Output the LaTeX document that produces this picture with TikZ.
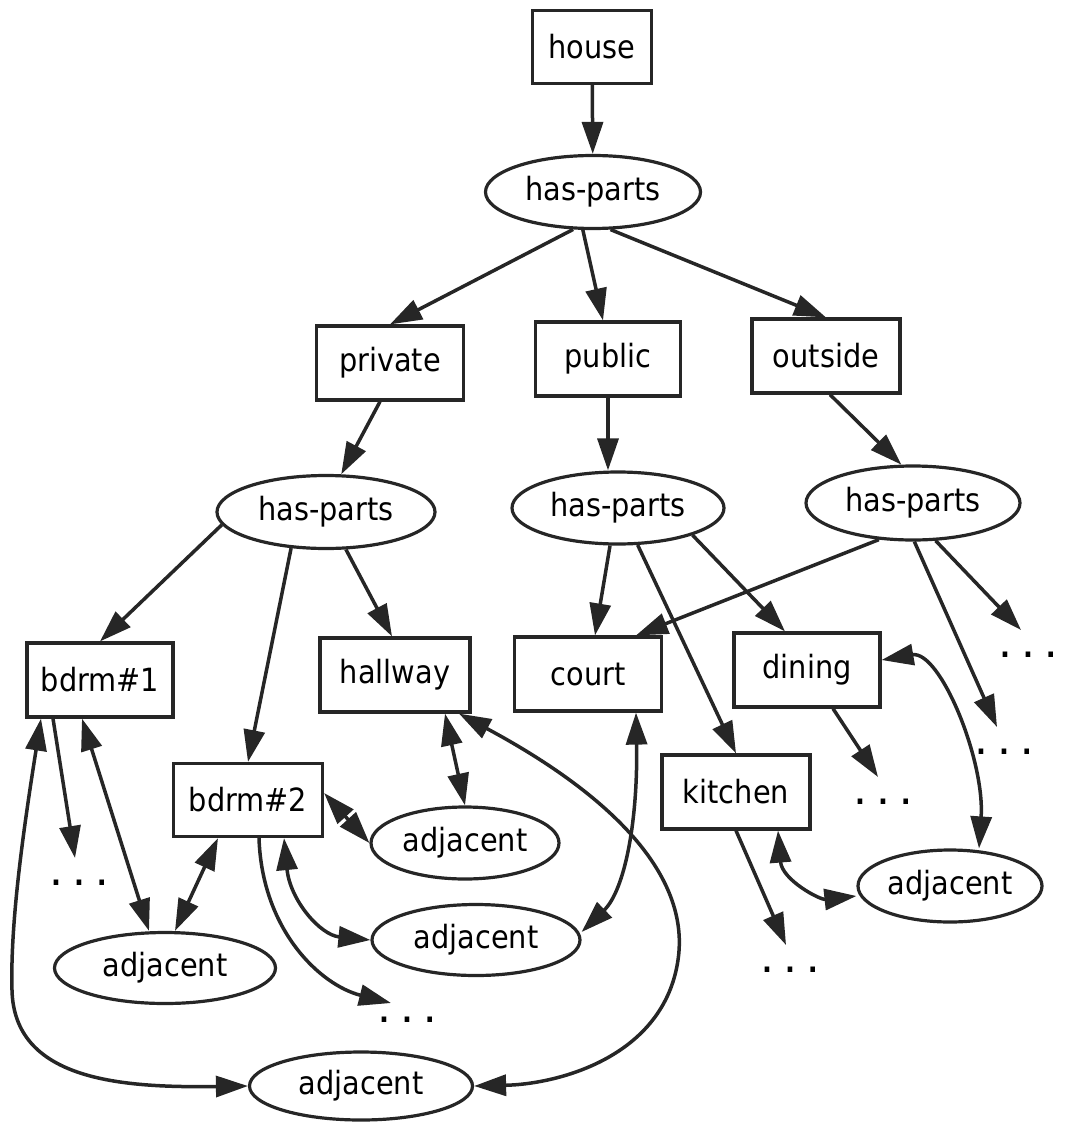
\documentclass[tikz,border=0pt]{standalone}
\usepackage{fontspec}
\setmainfont{DejaVu Sans}[FakeStretch=0.9]
\usetikzlibrary{shapes.geometric,arrows.meta}
\definecolor{ink}{HTML}{262626}
\begin{document}
\begin{tikzpicture}[x=1pt,y=-1pt,
  every node/.style={font=\fontsize{32}{36}\selectfont},
  box/.style={draw=ink, line width=3.2pt, minimum width=147pt, minimum height=74pt, inner sep=0pt},
  oval/.style={draw=ink, ellipse, line width=3.2pt, inner sep=0pt, minimum height=72pt},
  dots/.style={inner sep=0pt, text height=5pt, text depth=0pt, font=\fontsize{29}{34}\selectfont\bfseries},
  link/.style={draw=ink, line width=3.5pt, -{Triangle[length=32pt,width=21pt]}},
  mutual/.style={draw=ink, line width=3.5pt, {Triangle[length=32pt,width=21pt]}-{Triangle[length=32pt,width=21pt]}},
]
\useasboundingbox (0,0) rectangle (1067,1123);

% frames and relations
\node[box, minimum width=119pt, minimum height=73pt] (house) at (592,47) {house};
\node[oval, minimum width=215pt, minimum height=73pt] (hp0) at (593,192) {has-parts};
\node[box] (pri) at (390,363) {private};
\node[box, minimum width=145pt] (pub) at (608,359) {public};
\node[box, minimum width=148pt] (out) at (826,356) {outside};
\node[oval, minimum width=218pt, minimum height=73pt] (hp1) at (326,512) {has-parts};
\node[oval, minimum width=212pt] (hp2) at (618,508) {has-parts};
\node[oval, minimum width=214pt, minimum height=74pt] (hp3) at (913,503) {has-parts};
\node[box, minimum width=146pt] (bd1) at (100,680) {bdrm\#1};
\node[box, minimum width=150pt] (hall) at (395,675) {hallway};
\node[box] (court) at (588,674) {court};
\node[box, minimum width=146pt] (din) at (807,670) {dining};
\node[box, minimum width=148pt] (kit) at (736,792) {kitchen};
\node[box, minimum width=149pt, minimum height=73pt] (bd2) at (248,800) {bdrm\#2};
\node[oval, minimum width=188pt] (adjR1) at (465,843) {adjacent};
\node[oval, minimum width=208pt, minimum height=71pt] (adjM) at (476,940) {adjacent};
\node[oval, minimum width=221pt, minimum height=71pt] (adjL) at (165,968) {adjacent};
\node[oval, minimum width=223pt, minimum height=68pt] (adjB) at (361,1086) {adjacent};
\node[oval, minimum width=184pt] (adjRt) at (950,886) {adjacent};

% elided continuations
\node[dots] (dA) at (1028,655) {.\hspace{13pt}.\hspace{13pt}.};
\node[dots] (dB) at (1004,752) {.\hspace{13pt}.\hspace{13pt}.};
\node[dots] (dD) at (883,802) {.\hspace{13pt}.\hspace{13pt}.};
\node[dots] (dK) at (790,970) {.\hspace{13pt}.\hspace{13pt}.};
\node[dots] (dL) at (79,883) {.\hspace{13pt}.\hspace{13pt}.};
\node[dots] (dM) at (407,1020) {.\hspace{13pt}.\hspace{13pt}.};

% part-of links
\draw[link] (house) -- (hp0);
\draw[link] (hp0.242) -- (pri.north);
\draw[link] (hp0.255) -- ([xshift=-5pt]pub.north);
\draw[link] (hp0.295) -- (out.north);
\draw[link] ([xshift=-10pt]pri.south) -- (hp1.68);
\draw[link] (pub.south) -- (pub.south |- hp2.north);
\draw[link] ([xshift=4pt]out.south) -- (hp3.107);
\draw[link] (hp1.187) -- (bd1.north);
\draw[link] (hp1.226) -- (bd2.north);
\draw[link] (hp1.298) -- ([xshift=-3pt]hall.north);
\draw[link] (hp2.258) -- ([xshift=7pt]court.north);
\draw[link] (hp2.298) -- (kit.north);
\draw[link] (hp2.340) -- ([xshift=-22pt]din.north);
\draw[link] (hp3.227) -- ([xshift=48pt]court.north);
\draw[link] (hp3.301) -- ([shift={(-7,-25)}]dA.center);
\draw[link] (hp3.272) -- ([shift={(-7,-25)}]dB.center);
\draw[link] ([xshift=-47pt]bd1.south) -- ([shift={(-4,-25)}]dL.center);
\draw[link] ([xshift=11pt]bd2.south) .. controls (262,930) and (320,985) .. ([shift={(-16,-17)}]dM.center);
\draw[link] (kit.south) -- ([shift={(-4,-25)}]dK.center);
\draw[link] ([xshift=26pt]din.south) -- ([shift={(-5,-25)}]dD.center);

% adjacency links
\draw[mutual] ([xshift=-18pt]bd1.south) -- ([xshift=-16pt]adjL.north);
\draw[mutual] ([xshift=-30pt]bd2.south) -- ([xshift=10pt]adjL.north);
\draw[mutual] ([xshift=-59pt]bd1.south) .. controls (25,820) and (10,920) .. (12,990)
  .. controls (14,1080) and (120,1088) .. (adjB.west);
\draw[mutual] ([xshift=64pt]hall.south) .. controls (620,800) and (690,880) .. (678,960)
  .. controls (664,1056) and (560,1084) .. (adjB.east);
\draw[mutual] ([xshift=50pt]hall.south) -- (adjR1.north);
\draw[mutual] ([yshift=7pt]bd2.east) -- (adjR1.west);
\draw[mutual] ([xshift=36pt]bd2.south) .. controls (290,900) and (320,935) .. (adjM.west);
\draw[mutual] ([xshift=48pt]court.south) .. controls (638,820) and (625,890) .. ([yshift=8pt]adjM.east);
\draw[mutual] ([xshift=42pt]kit.south) .. controls (782,880) and (820,900) .. ([yshift=-10pt]adjRt.west);
\draw[mutual] ([yshift=10pt]din.east) .. controls (940,650) and (985,760) .. ([xshift=29pt]adjRt.north);
\end{tikzpicture}
\end{document}
